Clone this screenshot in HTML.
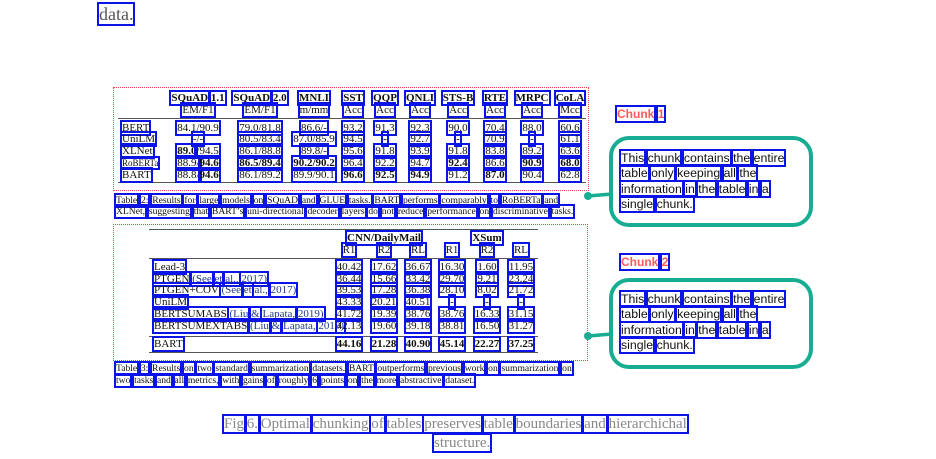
<!DOCTYPE html>
<html><head><meta charset="utf-8">
<style>
html,body{margin:0;padding:0;background:#fff;}
body{width:936px;height:459px;position:relative;overflow:hidden;font-family:"Liberation Serif",serif;color:#111;}
.a{position:absolute;white-space:nowrap;}
.t{font-size:11px;line-height:12px;}
.c{position:absolute;width:90px;margin-left:-45px;text-align:center;font-size:11px;line-height:12px;white-space:nowrap;}
.wd{box-shadow:0 0 0 2px #0a14e6;}
.rule{position:absolute;height:1px;background:#555;}
.box{position:absolute;border:1.5px dotted #e04848;}
.cap{font-size:9.6px;line-height:11px;}
.chunkbox{position:absolute;border:4px solid #17ad93;border-radius:20px;background:#fff;}
.ct{position:absolute;font-family:"Liberation Sans",sans-serif;font-size:12.3px;line-height:15.4px;color:#111;}
.lab{position:absolute;font-family:"Liberation Sans",sans-serif;font-weight:bold;font-size:12px;color:#ff5a5a;}
.fig{position:absolute;font-size:15px;color:#888;white-space:nowrap;}
b{font-weight:bold;}
.blue{color:#223a8a;}
</style></head><body>

<div class="a" style="left:99px;top:4px;font-size:18px;color:#555;">data.</div>

<!-- Table 1 -->
<div class="box" style="left:113px;top:87px;width:474px;height:102px;"></div>
<div class="rule" style="left:118px;top:118px;width:468px;"></div>
<div class="rule" style="left:118px;top:182px;width:468px;"></div>

<div class="c" style="left:198px;top:92px;"><b>SQuAD 1.1</b></div>
<div class="c" style="left:260px;top:92px;"><b>SQuAD 2.0</b></div>
<div class="c" style="left:314px;top:92px;"><b>MNLI</b></div>
<div class="c" style="left:353px;top:92px;"><b>SST</b></div>
<div class="c" style="left:385px;top:92px;"><b>QQP</b></div>
<div class="c" style="left:420px;top:92px;"><b>QNLI</b></div>
<div class="c" style="left:458px;top:92px;"><b>STS-B</b></div>
<div class="c" style="left:495px;top:92px;"><b>RTE</b></div>
<div class="c" style="left:532px;top:92px;"><b>MRPC</b></div>
<div class="c" style="left:570px;top:92px;"><b>CoLA</b></div>

<div class="c" style="left:198px;top:104px;">EM/F1</div>
<div class="c" style="left:260px;top:104px;">EM/F1</div>
<div class="c" style="left:314px;top:104px;">m/mm</div>
<div class="c" style="left:353px;top:104px;">Acc</div>
<div class="c" style="left:385px;top:104px;">Acc</div>
<div class="c" style="left:420px;top:104px;">Acc</div>
<div class="c" style="left:458px;top:104px;">Acc</div>
<div class="c" style="left:495px;top:104px;">Acc</div>
<div class="c" style="left:532px;top:104px;">Acc</div>
<div class="c" style="left:570px;top:104px;">Mcc</div>

<div class="a t" style="left:122px;top:122px;">BERT</div>
<div class="c" style="left:198px;top:122px;">84.1/90.9</div>
<div class="c" style="left:260px;top:122px;">79.0/81.8</div>
<div class="c" style="left:314px;top:122px;">86.6/-</div>
<div class="c" style="left:353px;top:122px;">93.2</div>
<div class="c" style="left:385px;top:122px;">91.3</div>
<div class="c" style="left:420px;top:122px;">92.3</div>
<div class="c" style="left:458px;top:122px;">90.0</div>
<div class="c" style="left:495px;top:122px;">70.4</div>
<div class="c" style="left:532px;top:122px;">88.0</div>
<div class="c" style="left:570px;top:122px;">60.6</div>

<div class="a t" style="left:122px;top:133px;">UniLM</div>
<div class="c" style="left:198px;top:133px;">-/-</div>
<div class="c" style="left:260px;top:133px;">80.5/83.4</div>
<div class="c" style="left:314px;top:133px;">87.0/85.9</div>
<div class="c" style="left:353px;top:133px;">94.5</div>
<div class="c" style="left:385px;top:133px;">-</div>
<div class="c" style="left:420px;top:133px;">92.7</div>
<div class="c" style="left:458px;top:133px;">-</div>
<div class="c" style="left:495px;top:133px;">70.9</div>
<div class="c" style="left:532px;top:133px;">-</div>
<div class="c" style="left:570px;top:133px;">61.1</div>

<div class="a t" style="left:122px;top:145px;">XLNet</div>
<div class="c" style="left:198px;top:145px;"><b>89.0</b>/94.5</div>
<div class="c" style="left:260px;top:145px;">86.1/88.8</div>
<div class="c" style="left:314px;top:145px;">89.8/-</div>
<div class="c" style="left:353px;top:145px;">95.6</div>
<div class="c" style="left:385px;top:145px;">91.8</div>
<div class="c" style="left:420px;top:145px;">93.9</div>
<div class="c" style="left:458px;top:145px;">91.8</div>
<div class="c" style="left:495px;top:145px;">83.8</div>
<div class="c" style="left:532px;top:145px;">89.2</div>
<div class="c" style="left:570px;top:145px;">63.6</div>

<div class="a t" style="left:122px;top:157px;font-size:9px;">RoBERTa</div>
<div class="c" style="left:198px;top:157px;">88.9/<b>94.6</b></div>
<div class="c" style="left:260px;top:157px;"><b>86.5/89.4</b></div>
<div class="c" style="left:314px;top:157px;"><b>90.2/90.2</b></div>
<div class="c" style="left:353px;top:157px;">96.4</div>
<div class="c" style="left:385px;top:157px;">92.2</div>
<div class="c" style="left:420px;top:157px;">94.7</div>
<div class="c" style="left:458px;top:157px;"><b>92.4</b></div>
<div class="c" style="left:495px;top:157px;">86.6</div>
<div class="c" style="left:532px;top:157px;"><b>90.9</b></div>
<div class="c" style="left:570px;top:157px;"><b>68.0</b></div>

<div class="a t" style="left:122px;top:169px;">BART</div>
<div class="c" style="left:198px;top:169px;">88.8/<b>94.6</b></div>
<div class="c" style="left:260px;top:169px;">86.1/89.2</div>
<div class="c" style="left:314px;top:169px;">89.9/90.1</div>
<div class="c" style="left:353px;top:169px;"><b>96.6</b></div>
<div class="c" style="left:385px;top:169px;"><b>92.5</b></div>
<div class="c" style="left:420px;top:169px;"><b>94.9</b></div>
<div class="c" style="left:458px;top:169px;">91.2</div>
<div class="c" style="left:495px;top:169px;"><b>87.0</b></div>
<div class="c" style="left:532px;top:169px;">90.4</div>
<div class="c" style="left:570px;top:169px;">62.8</div>

<div class="a cap" style="left:116px;top:195px;word-spacing:1.4px;">Table 2: Results for large models on SQuAD and GLUE tasks. BART performs comparably to RoBERTa and</div>
<div class="a cap" style="left:116px;top:206px;word-spacing:1.4px;">XLNet, suggesting that BART’s uni-directional decoder layers do not reduce performance on discriminative tasks.</div>

<!-- Table 2 -->
<div class="box" style="left:113px;top:224px;width:473px;height:135px;"></div>
<div class="rule" style="left:149px;top:229px;width:389px;"></div>
<div class="rule" style="left:149px;top:258px;width:389px;"></div>
<div class="rule" style="left:149px;top:336px;width:389px;"></div>
<div class="rule" style="left:149px;top:352px;width:389px;"></div>

<div class="c" style="left:384px;top:232px;"><b>CNN/DailyMail</b></div>
<div class="c" style="left:487px;top:232px;"><b>XSum</b></div>
<div class="c" style="left:349px;top:244px;">R1</div>
<div class="c" style="left:384px;top:244px;">R2</div>
<div class="c" style="left:418px;top:244px;">RL</div>
<div class="c" style="left:452px;top:244px;">R1</div>
<div class="c" style="left:487px;top:244px;">R2</div>
<div class="c" style="left:521px;top:244px;">RL</div>

<div class="a t" style="left:154px;top:261px;">Lead-3</div>
<div class="a t" style="left:154px;top:273px;">PTGEN <span class="blue">(See et al., 2017)</span></div>
<div class="a t" style="left:154px;top:284px;">PTGEN+COV <span class="blue">(See et al., 2017)</span></div>
<div class="a t" style="left:154px;top:296px;">UniLM</div>
<div class="a t" style="left:154px;top:308px;">BERTSUMABS <span class="blue">(Liu &amp; Lapata, 2019)</span></div>
<div class="a t" style="left:154px;top:320px;">BERTSUMEXTABS <span class="blue">(Liu &amp; Lapata, 2019)</span></div>
<div class="a t" style="left:154px;top:338px;">BART</div>

<div class="c" style="left:349px;top:261px;">40.42</div><div class="c" style="left:384px;top:261px;">17.62</div><div class="c" style="left:418px;top:261px;">36.67</div><div class="c" style="left:452px;top:261px;">16.30</div><div class="c" style="left:487px;top:261px;">1.60</div><div class="c" style="left:521px;top:261px;">11.95</div>
<div class="c" style="left:349px;top:273px;">36.44</div><div class="c" style="left:384px;top:273px;">15.66</div><div class="c" style="left:418px;top:273px;">33.42</div><div class="c" style="left:452px;top:273px;">29.70</div><div class="c" style="left:487px;top:273px;">9.21</div><div class="c" style="left:521px;top:273px;">23.24</div>
<div class="c" style="left:349px;top:284px;">39.53</div><div class="c" style="left:384px;top:284px;">17.28</div><div class="c" style="left:418px;top:284px;">36.38</div><div class="c" style="left:452px;top:284px;">28.10</div><div class="c" style="left:487px;top:284px;">8.02</div><div class="c" style="left:521px;top:284px;">21.72</div>
<div class="c" style="left:349px;top:296px;">43.33</div><div class="c" style="left:384px;top:296px;">20.21</div><div class="c" style="left:418px;top:296px;">40.51</div><div class="c" style="left:452px;top:296px;">-</div><div class="c" style="left:487px;top:296px;">-</div><div class="c" style="left:521px;top:296px;">-</div>
<div class="c" style="left:349px;top:308px;">41.72</div><div class="c" style="left:384px;top:308px;">19.39</div><div class="c" style="left:418px;top:308px;">38.76</div><div class="c" style="left:452px;top:308px;">38.76</div><div class="c" style="left:487px;top:308px;">16.33</div><div class="c" style="left:521px;top:308px;">31.15</div>
<div class="c" style="left:349px;top:320px;">42.13</div><div class="c" style="left:384px;top:320px;">19.60</div><div class="c" style="left:418px;top:320px;">39.18</div><div class="c" style="left:452px;top:320px;">38.81</div><div class="c" style="left:487px;top:320px;">16.50</div><div class="c" style="left:521px;top:320px;">31.27</div>
<div class="c" style="left:349px;top:338px;"><b>44.16</b></div><div class="c" style="left:384px;top:338px;"><b>21.28</b></div><div class="c" style="left:418px;top:338px;"><b>40.90</b></div><div class="c" style="left:452px;top:338px;"><b>45.14</b></div><div class="c" style="left:487px;top:338px;"><b>22.27</b></div><div class="c" style="left:521px;top:338px;"><b>37.25</b></div>

<div class="a cap" style="left:116px;top:363px;word-spacing:1.3px;">Table 3: Results on two standard summarization datasets. BART outperforms previous work on summarization on</div>
<div class="a cap" style="left:116px;top:375px;word-spacing:1.3px;">two tasks and all metrics, with gains of roughly 6 points on the more abstractive dataset.</div>

<!-- connectors -->
<svg class="a" style="left:0;top:0;" width="936" height="459">
<line x1="588" y1="196" x2="612" y2="194" stroke="#17ad93" stroke-width="3.5"/>
<circle cx="588" cy="196" r="4" fill="#17ad93"/>
<line x1="588" y1="336" x2="612" y2="334" stroke="#17ad93" stroke-width="3.5"/>
<circle cx="588" cy="336" r="4" fill="#17ad93"/>
</svg>

<div class="lab" style="left:617px;top:107px;">Chunk 1</div>
<div class="chunkbox" style="left:609px;top:136px;width:196px;height:83px;"></div>
<div class="ct" style="left:621px;top:151px;">This chunk contains the entire<br>table only keeping all the<br>information in the table in a<br>single chunk.</div>

<div class="lab" style="left:621px;top:255px;">Chunk 2</div>
<div class="chunkbox" style="left:609px;top:278px;width:196px;height:83px;"></div>
<div class="ct" style="left:621px;top:292px;">This chunk contains the entire<br>table only keeping all the<br>information in the table in a<br>single chunk.</div>

<div class="fig" style="left:224px;top:416px;word-spacing:-1px;">Fig 6. Optimal chunking of tables preserves table boundaries and hierarchichal</div>
<div class="fig" style="left:434px;top:435px;">structure.</div>

<script>
(function(){
  var walker=document.createTreeWalker(document.body,NodeFilter.SHOW_TEXT,null,false);
  var nodes=[];var n;
  while((n=walker.nextNode())){ if(n.parentNode.tagName!=='SCRIPT'&&n.parentNode.tagName!=='STYLE'&&/\S/.test(n.nodeValue)) nodes.push(n); }
  nodes.forEach(function(t){
    var parts=t.nodeValue.split(/(\s+)/);
    var frag=document.createDocumentFragment();
    parts.forEach(function(p){
      if(p==='')return;
      if(/^\s+$/.test(p)){frag.appendChild(document.createTextNode(p));}
      else{var s=document.createElement('span');s.className='wd';s.textContent=p;frag.appendChild(s);}
    });
    t.parentNode.replaceChild(frag,t);
  });
})();
</script>
</body></html>
